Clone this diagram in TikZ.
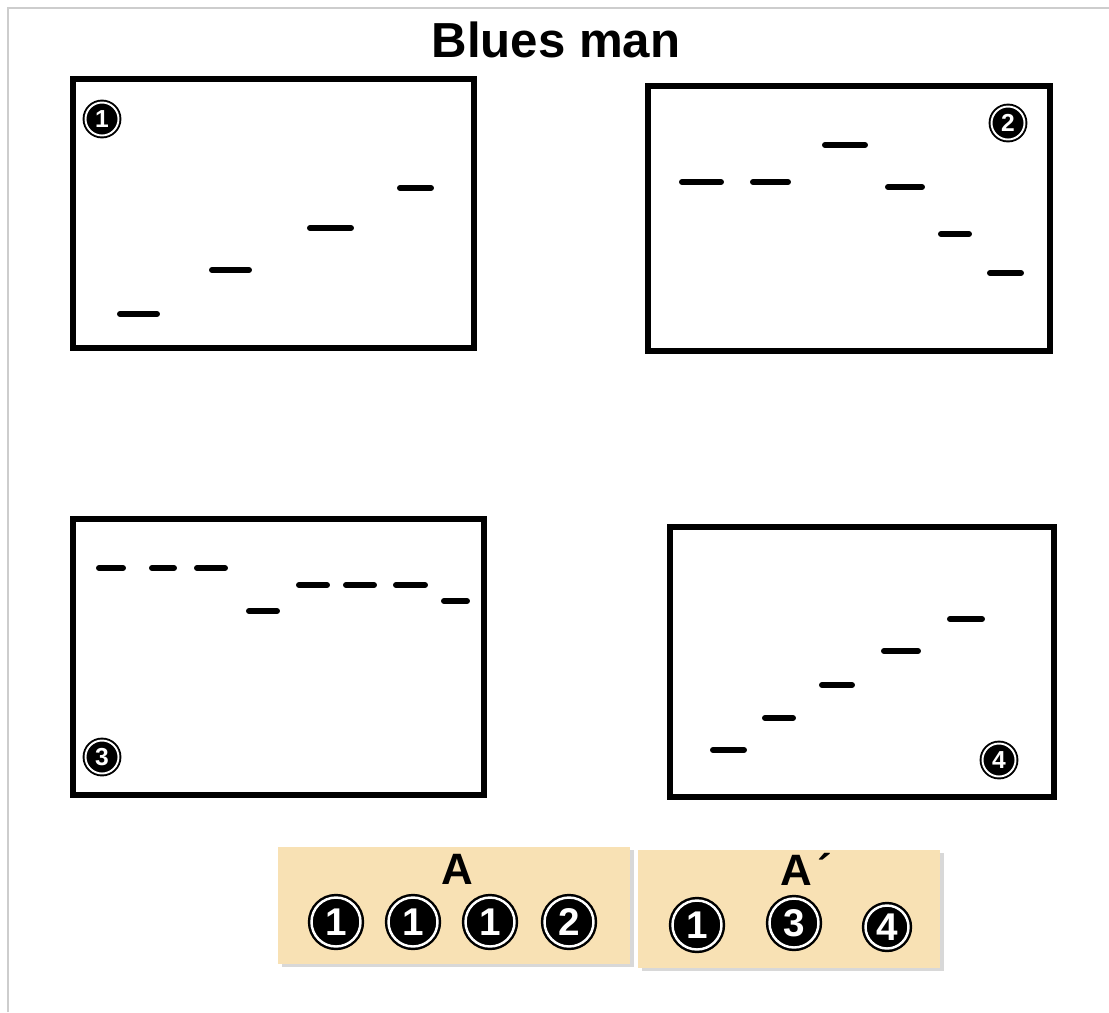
\documentclass[tikz,border=0pt]{standalone}
\usepackage{fontspec}
\setmainfont{Liberation Sans}
\usetikzlibrary{shadows}
\definecolor{cardtan}{RGB}{248,225,180}
\definecolor{edgegray}{RGB}{205,205,205}
\tikzset{
  panel/.style={draw=black, line width=3pt},
  tick/.style={line width=3.4pt, line cap=round},
  num/.style={circle, fill=black, draw=black, double=white, double distance=1.1pt,
    line width=1.1pt, text=white, inner sep=0pt, minimum size=0.66cm,
    font=\bfseries\fontsize{14}{14}\selectfont},
  bignum/.style={num, minimum size=0.98cm, line width=1.4pt, double distance=1.4pt,
    font=\bfseries\fontsize{22}{22}\selectfont},
  card/.style={fill=cardtan, drop shadow={shadow xshift=2pt, shadow yshift=-1.5pt, opacity=0.3}},
  cardlabel/.style={font=\bfseries\fontsize{25}{25}\selectfont, inner sep=0pt},
}
\begin{document}
\begin{tikzpicture}[x=0.02cm, y=-0.02cm]
  \useasboundingbox (0,0) rectangle (1109,1012);
  \fill[white] (0,0) rectangle (1109,1012);
  \draw[edgegray, line width=1.2pt] (8,1012) -- (8,8) -- (1109,8);

  \node[font=\bfseries\fontsize{28}{28}\selectfont] (title) at (556,40) {Blues man};

  % panel 1
  \draw[panel] (73,79) rectangle (474,348);
  \node[num] (n1) at (102,119) {1};
  \draw[tick] (120,314) -- (157,314);
  \draw[tick] (212,270) -- (249,270);
  \draw[tick] (310,228) -- (351,228);
  \draw[tick] (400,188) -- (431,188);

  % panel 2
  \draw[panel] (648,86) rectangle (1050,351);
  \node[num] (n2) at (1008,123) {2};
  \draw[tick] (682,182) -- (721,182);
  \draw[tick] (753,182) -- (788,182);
  \draw[tick] (825,145) -- (865,145);
  \draw[tick] (888,187) -- (922,187);
  \draw[tick] (941,234) -- (969,234);
  \draw[tick] (990,273) -- (1021,273);

  % panel 3
  \draw[panel] (73,519) rectangle (484,795);
  \node[num] (n3) at (102,757) {3};
  \draw[tick] (99,568) -- (123,568);
  \draw[tick] (152,568) -- (174,568);
  \draw[tick] (197,568) -- (225,568);
  \draw[tick] (249,611) -- (277,611);
  \draw[tick] (299,585) -- (327,585);
  \draw[tick] (346,585) -- (374,585);
  \draw[tick] (396,585) -- (425,585);
  \draw[tick] (444,601) -- (467,601);

  % panel 4
  \draw[panel] (670,527) rectangle (1054,797);
  \node[num] (n4) at (999,760) {4};
  \draw[tick] (713,750) -- (744,750);
  \draw[tick] (765,718) -- (793,718);
  \draw[tick] (822,685) -- (852,685);
  \draw[tick] (884,651) -- (918,651);
  \draw[tick] (950,619) -- (982,619);

  % form cards
  \fill[card] (278,847) rectangle (630,964);
  \fill[card] (638,850) rectangle (940,968);

  \node[cardlabel] (labA) at (457,869) {A};
  \node[bignum] (a1) at (336,922) {1};
  \node[bignum] (a2) at (413,922) {1};
  \node[bignum] (a3) at (490,922) {1};
  \node[bignum] (a4) at (569,922) {2};

  \node[cardlabel] (labB) at (806,869) {A\hspace{0.12em}´};
  \node[bignum] (b1) at (697,925) {1};
  \node[bignum] (b2) at (794,923) {3};
  \node[bignum, minimum size=0.86cm] (b3) at (887,927) {4};
\end{tikzpicture}
\end{document}
